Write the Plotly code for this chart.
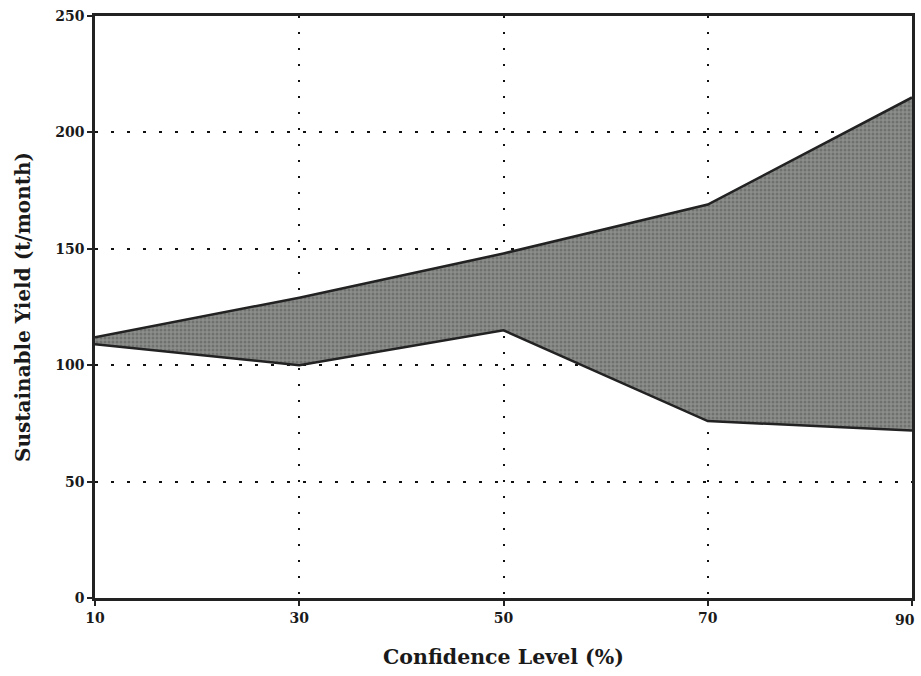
import plotly.graph_objects as go

confidence = [10, 30, 50, 70, 90]
upper_yield = [112, 129, 148, 169, 215]
lower_yield = [109, 100, 115, 76, 72]

x_ticks = [10, 30, 50, 70, 90]
x_tick_labels = ["10", "30", "50", "70", ""]
last_x_label = "90"
y_ticks = [0, 50, 100, 150, 200, 250]

FONT = "DejaVu Serif"

fig = go.Figure()
fig.add_trace(go.Scatter(x=confidence, y=lower_yield, mode="lines",
                         line=dict(color="#222222", width=2.5),
                         showlegend=False, hoverinfo="skip"))
fig.add_trace(go.Scatter(x=confidence, y=upper_yield, mode="lines",
                         line=dict(color="#222222", width=2.5),
                         fill="tonexty",
                         fillpattern=dict(shape=".", bgcolor="rgb(140,142,140)",
                                          fgcolor="rgb(80,83,80)", size=4, solidity=0.45),
                         showlegend=False, hoverinfo="skip"))

fig.add_annotation(x=x_ticks[-1], y=0, xref="x", yref="paper", text=last_x_label,
                   showarrow=False, xanchor="right", yanchor="middle",
                   xshift=5, yshift=-22,
                   font=dict(family=FONT, size=14, color="#1a1a1a", weight="bold"))

fig.update_layout(
    width=921, height=676,
    margin=dict(l=95, r=9, t=16, b=78),
    paper_bgcolor="white", plot_bgcolor="white",
    font=dict(family=FONT, color="#1a1a1a"),
    xaxis=dict(range=[10, 90], tickvals=x_ticks, ticktext=x_tick_labels,
               automargin=False,
               showgrid=True, gridcolor="#111111", gridwidth=1.6, griddash="2px,14px",
               showline=True, linecolor="#222222", linewidth=2.5, mirror=True,
               ticks="outside", ticklen=5, tickwidth=2, tickcolor="#222222",
               tickfont=dict(family=FONT, size=14, color="#1a1a1a", weight="bold"),
               zeroline=False,
               title=dict(text="Confidence Level (%)", standoff=26,
                          font=dict(family=FONT, size=20.5, color="#1a1a1a", weight="bold"))),
    yaxis=dict(range=[0, 250], tickvals=y_ticks, ticktext=[str(v) for v in y_ticks],
               automargin=False,
               showgrid=True, gridcolor="#111111", gridwidth=1.6, griddash="3px,13px",
               showline=True, linecolor="#222222", linewidth=2.5, mirror=True,
               ticks="outside", ticklen=5, tickwidth=2, tickcolor="#222222",
               tickfont=dict(family=FONT, size=14, color="#1a1a1a", weight="bold"),
               zeroline=False,
               title=dict(text="Sustainable Yield (t/month)", standoff=20,
                          font=dict(family=FONT, size=20, color="#1a1a1a", weight="bold"))),
)

fig.write_html("out.html")
